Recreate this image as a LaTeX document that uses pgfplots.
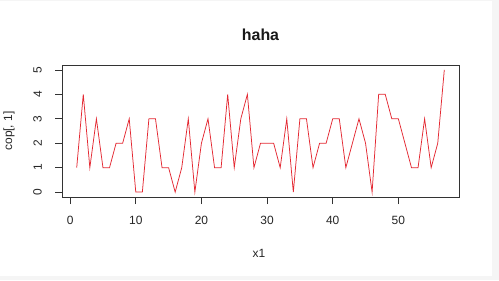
\documentclass[border=0pt]{standalone}
\usepackage{fontspec}
\setmainfont{Liberation Sans}
\usepackage{pgfplots}
\pgfplotsset{compat=1.18}
\definecolor{rline}{RGB}{228,40,50}
\begin{document}
\begin{tikzpicture}[x=1bp,y=1bp]
\fill[black!4] (0,0) rectangle (499,280);
\fill[white] (0,4) rectangle (492,279);
\useasboundingbox (0,0) rectangle (499,280);
\begin{axis}[
  at={(62bp,83bp)}, anchor=south west,
  scale only axis, width=397bp, height=132bp,
  xmin=-1.24, xmax=59.24, ymin=-0.2, ymax=5.2,
  xtick={0,10,20,30,40,50}, ytick={0,1,2,3,4,5},
  xtick pos=bottom, ytick pos=left,
  tick align=outside, major tick length=7bp,
  tick style={black!80, line width=0.75bp},
  axis line style={black!80, line width=0.75bp},
  /pgf/number format/assume math mode=true,
  ticklabel style={font=\fontsize{12}{14}\selectfont, text=black!85},
  yticklabel style={rotate=90, anchor=south, inner sep=0pt, yshift=13bp},
  xticklabel style={anchor=north, inner sep=0pt, yshift=-12bp},
]
\addplot[rline, line width=0.75bp, mark=none] coordinates {
(1,1)(2,4)(3,1)(4,3)(5,1)(6,1)(7,2)(8,2)(9,3)(10,0)
(11,0)(12,3)(13,3)(14,1)(15,1)(16,0)(17,1)(18,3)(19,0)(20,2)
(21,3)(22,1)(23,1)(24,4)(25,1)(26,3)(27,4)(28,1)(29,2)(30,2)
(31,2)(32,1)(33,3)(34,0)(35,3)(36,3)(37,1)(38,2)(39,2)(40,3)
(41,3)(42,1)(43,2)(44,3)(45,2)(46,0)(47,4)(48,4)(49,3)(50,3)
(51,2)(52,1)(53,1)(54,3)(55,1)(56,2)(57,5)
};
\end{axis}
\node[anchor=base, font=\bfseries\fontsize{16}{19}\selectfont, text=black!90] at (260.5,240) {haha};
\node[anchor=base, font=\fontsize{12}{14}\selectfont, text=black!85] at (259,23) {x1};
\node[rotate=90, anchor=base, font=\fontsize{12}{14}\selectfont, text=black!85] at (12,149) {cop[, 1]};
\end{tikzpicture}
\end{document}
